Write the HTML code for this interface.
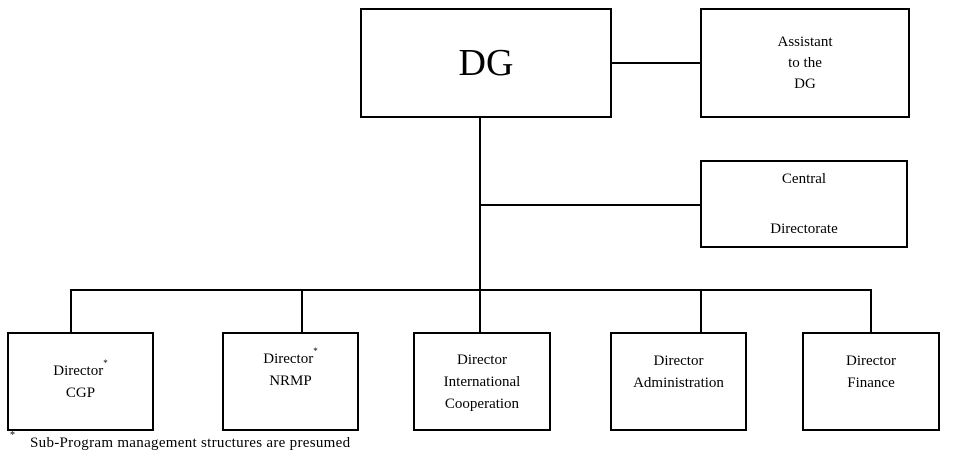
<!DOCTYPE html>
<html><head><style>
body{margin:0;background:#fff;width:962px;height:458px;overflow:hidden;position:relative;font-family:"Liberation Serif",serif;color:#000}
.b{position:absolute;border:2px solid #000;box-sizing:border-box;display:flex;flex-direction:column;align-items:center;justify-content:center;text-align:center;font-size:15px;line-height:22px}
.h{position:absolute;height:2px;background:#000}
.v{position:absolute;width:2px;background:#000}
sup{font-size:9px;vertical-align:top;line-height:10px;position:relative;top:-2px}
</style></head><body>
<div class="b" style="left:360px;top:8px;width:252px;height:110px;font-size:38px">DG</div>
<div class="b" style="left:700px;top:8px;width:210px;height:110px;line-height:21px"><div>Assistant<br>to the<br>DG</div></div>
<div class="h" style="left:611px;top:62px;width:90px"></div>
<div class="b" style="left:700px;top:160px;width:208px;height:88px;line-height:25px"><div>Central<br><br>Directorate</div></div>
<div class="v" style="left:479px;top:117px;height:174px"></div>
<div class="h" style="left:479px;top:204px;width:222px"></div>
<div class="h" style="left:70px;top:289px;width:802px"></div>
<div class="v" style="left:70px;top:289px;height:44px"></div>
<div class="v" style="left:301px;top:289px;height:44px"></div>
<div class="v" style="left:479px;top:289px;height:44px"></div>
<div class="v" style="left:700px;top:289px;height:44px"></div>
<div class="v" style="left:870px;top:289px;height:44px"></div>
<div class="b" style="left:7px;top:332px;width:147px;height:99px"><div>Director<sup>*</sup><br>CGP</div></div>
<div class="b" style="left:222px;top:332px;width:137px;height:99px;justify-content:flex-start;padding-top:14px"><div>Director<sup>*</sup><br>NRMP</div></div>
<div class="b" style="left:413px;top:332px;width:138px;height:99px"><div>Director<br>International<br>Cooperation</div></div>
<div class="b" style="left:610px;top:332px;width:137px;height:99px;justify-content:flex-start;padding-top:16px"><div>Director<br>Administration</div></div>
<div class="b" style="left:802px;top:332px;width:138px;height:99px;justify-content:flex-start;padding-top:16px"><div>Director<br>Finance</div></div>
<div style="position:absolute;left:10px;top:430px;font-size:10px">*</div>
<div style="position:absolute;left:30px;top:435px;font-size:15px;letter-spacing:0.3px">Sub-Program management structures are presumed</div>
</body></html>
